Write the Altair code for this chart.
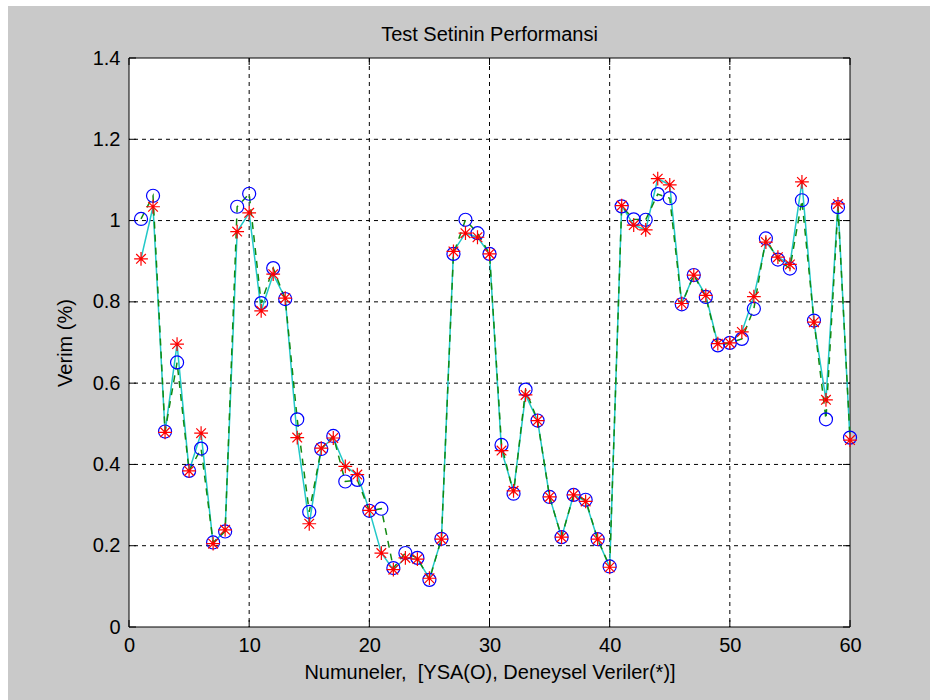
import altair as alt
import pandas as pd

# ---- data ----
numune = list(range(1, 61))
ysa = [1.004, 1.061, 0.481, 0.651, 0.384, 0.439, 0.208, 0.235, 1.034, 1.066,
       0.797, 0.883, 0.807, 0.511, 0.283, 0.438, 0.470, 0.358, 0.362, 0.286,
       0.291, 0.145, 0.182, 0.170, 0.116, 0.217, 0.918, 1.002, 0.969, 0.918,
       0.448, 0.328, 0.584, 0.508, 0.320, 0.221, 0.325, 0.313, 0.216, 0.149,
       1.035, 1.003, 1.002, 1.065, 1.055, 0.794, 0.866, 0.812, 0.693, 0.699,
       0.709, 0.783, 0.956, 0.904, 0.882, 1.050, 0.754, 0.511, 1.033, 0.466]
deney = [0.906, 1.034, 0.479, 0.696, 0.384, 0.477, 0.205, 0.239, 0.973, 1.019,
         0.778, 0.868, 0.809, 0.466, 0.254, 0.440, 0.465, 0.395, 0.375, 0.287,
         0.182, 0.141, 0.170, 0.167, 0.120, 0.216, 0.924, 0.969, 0.959, 0.918,
         0.434, 0.335, 0.571, 0.508, 0.320, 0.221, 0.325, 0.309, 0.216, 0.147,
         1.037, 0.989, 0.977, 1.103, 1.088, 0.796, 0.866, 0.816, 0.697, 0.699,
         0.726, 0.813, 0.947, 0.910, 0.892, 1.095, 0.750, 0.559, 1.041, 0.460]
x_ticks = [0, 10, 20, 30, 40, 50, 60]
y_ticks = [0, 0.2, 0.4, 0.6, 0.8, 1.0, 1.2, 1.4]
x_grid = [10, 20, 30, 40, 50]
y_grid = [0.2, 0.4, 0.6, 0.8, 1.0, 1.2]

TITLE = "Test Setinin Performansi"
XTITLE = "Numuneler, \u00a0[YSA(O), Deneysel Veriler(*)]"
YTITLE = "Verim (%)"

df = pd.DataFrame({"n": numune, "ysa": ysa, "deney": deney})

W, H = 721, 569
F = "Liberation Sans, Arial, sans-serif"
FS = 20

xs = alt.Scale(domain=[0, 60], nice=False, zero=False)
ys = alt.Scale(domain=[0, 1.4], nice=False, zero=False)

xaxis = alt.Axis(values=x_ticks, title=XTITLE, grid=False, ticks=False, domain=False,
                 labelPadding=8, labelFont=F, labelFontSize=FS, labelColor="black",
                 labelFlush=False, labelOverlap=False,
                 titleFont=F, titleFontSize=FS, titleFontWeight="normal", titleColor="black",
                 titleX=W / 2, titleY=45, titleBaseline="middle", titleAlign="center", zindex=1)
yaxis = alt.Axis(values=y_ticks, title=YTITLE, format="~g", grid=False, ticks=False, domain=False,
                 labelPadding=9, labelFont=F, labelFontSize=FS, labelColor="black",
                 labelFlush=False, labelOverlap=False,
                 titleFont=F, titleFontSize=FS, titleFontWeight="normal", titleColor="black",
                 titleX=-64, titleY=H / 2, titleAngle=270, titleBaseline="middle",
                 titleAlign="center", zindex=1)


def X(f):
    return alt.X(f"{f}:Q", scale=xs, axis=xaxis)


def Y(f):
    return alt.Y(f"{f}:Q", scale=ys, axis=yaxis)


one = alt.Data(values=[{}])

fig_bg = alt.Chart(one).mark_rect(color="#c9c9c9").encode(
    x=alt.value(-121), x2=alt.value(801), y=alt.value(-52), y2=alt.value(642))
plot_bg = alt.Chart(one).mark_rect(fill="white", stroke="black", strokeWidth=1).encode(
    x=alt.value(0), x2=alt.value(W), y=alt.value(0), y2=alt.value(H))
title_txt = alt.Chart(one).mark_text(font=F, fontSize=FS, color="black", align="center",
                                     baseline="middle").encode(
    x=alt.value(W / 2), y=alt.value(-23), text=alt.value(TITLE))

xg = pd.DataFrame({"n": x_grid})
yg = pd.DataFrame({"ysa": y_grid})
xt = pd.DataFrame({"n": x_ticks})
yt = pd.DataFrame({"ysa": y_ticks})

vgrid = alt.Chart(xg).mark_rule(color="black", strokeDash=[4, 4], strokeWidth=1).encode(x=X("n"))
hgrid = alt.Chart(yg).mark_rule(color="black", strokeDash=[4, 4], strokeWidth=1).encode(y=Y("ysa"))

tick_style = dict(color="black", strokeWidth=1)
yt_left = alt.Chart(yt).mark_rule(**tick_style).encode(y=Y("ysa"), x=alt.value(0), x2=alt.value(7))
yt_right = alt.Chart(yt).mark_rule(**tick_style).encode(y=Y("ysa"), x=alt.value(W - 7), x2=alt.value(W))
xt_bot = alt.Chart(xt).mark_rule(**tick_style).encode(x=X("n"), y=alt.value(H - 7), y2=alt.value(H))
xt_top = alt.Chart(xt).mark_rule(**tick_style).encode(x=X("n"), y=alt.value(0), y2=alt.value(7))

base = alt.Chart(df)
cyan = base.mark_line(color="#22c8c8", strokeWidth=1.5).encode(x=X("n"), y=Y("deney"))
green = base.mark_line(color="#118a11", strokeWidth=1.5, strokeDash=[7, 6]).encode(x=X("n"), y=Y("ysa"))
circles = base.mark_point(shape="circle", size=170, filled=False, color="blue",
                          strokeWidth=1.2, opacity=1).encode(x=X("n"), y=Y("ysa"))
STAR = "M-1,0L1,0M0,-1L0,1M-0.7,-0.7L0.7,0.7M-0.7,0.7L0.7,-0.7"
stars = base.mark_point(shape=STAR, size=190, filled=False, color="red",
                        strokeWidth=1.2, opacity=1).encode(x=X("n"), y=Y("deney"))

chart = alt.layer(
    fig_bg, plot_bg, title_txt, vgrid, hgrid, yt_left, yt_right, xt_bot, xt_top,
    cyan, green, circles, stars
).properties(
    width=W, height=H,
    autosize=alt.AutoSizeParams(type="none"),
    padding={"left": 129, "top": 58, "right": 80, "bottom": 73},
    background="white",
).configure_view(stroke=None)

chart.save("out.html", embed_options={"renderer": "svg", "actions": False})
